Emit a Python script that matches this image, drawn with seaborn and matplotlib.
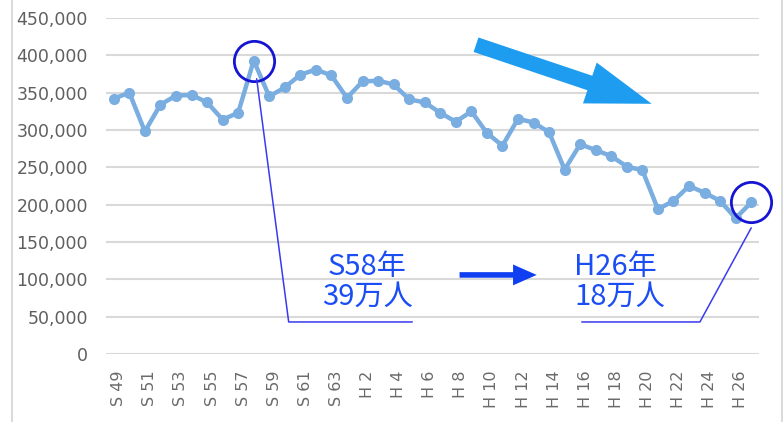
import numpy as np
import pandas as pd
import seaborn as sns
import matplotlib.pyplot as plt
import matplotlib.transforms as mtransforms
from matplotlib.patches import FancyArrowPatch, Rectangle

# fiscal years: Showa 49-63, Heisei 1-27
years = ["S " + str(y) for y in range(49, 64)] + ["H " + str(y) for y in range(1, 28)]
values = [342000, 350000, 298000, 334000, 346000, 347000, 337000, 314000, 323000, 393000,
          345000, 357000, 374000, 381000, 373000, 343000, 365000, 366000, 361000, 341000,
          337000, 323000, 311000, 325000, 296000, 279000, 315000, 310000, 297000, 247000,
          281000, 273000, 265000, 251000, 246000, 194000, 205000, 225000, 216000, 205000,
          182000, 203000]
tick_labels = years[::2]
y_ticks = [0, 50000, 100000, 150000, 200000, 250000, 300000, 350000, 400000, 450000]
peak_label = "S58年\n39万人"
last_label = "H26年\n18万人"

sns.set_theme(style="white")
plt.rcParams['font.family'] = ['DejaVu Sans', 'Noto Sans CJK JP']

df = pd.DataFrame({"idx": np.arange(len(years)), "value": values})

fig = plt.figure(figsize=(7.84, 4.22), dpi=100)
ax = fig.add_axes([106 / 784, 1 - 354 / 422, (759 - 106) / 784, (354 - 18) / 422])

sns.lineplot(data=df, x="idx", y="value", ax=ax, color="#7aade0", linewidth=3.2,
             marker="o", markersize=8, markeredgewidth=0, zorder=3)

ax.set_xlim(-0.5, len(years) - 0.5)
ax.set_ylim(0, 450000)
ax.set_yticks(y_ticks)
ax.set_yticklabels([f"{v:,}" for v in y_ticks], fontsize=12.5, color="#5f5f5f")
ax.set_xticks(df["idx"][::2])
ax.set_xticklabels(tick_labels, rotation=90, fontsize=11.5, color="#6a6a6a", va="top", ha="center")
ax.tick_params(axis="y", length=0, pad=13)
ax.tick_params(axis="x", length=0, pad=12)
offset = mtransforms.ScaledTranslation(5 / 100, 0, fig.dpi_scale_trans)
for lbl in ax.get_xticklabels():
    lbl.set_transform(lbl.get_transform() + offset)
ax.set_xlabel("")
ax.set_ylabel("")
ax.grid(axis="y", color="#d9d9d9", linewidth=1.5)
ax.grid(axis="x", visible=False)
for s in ax.spines.values():
    s.set_visible(False)

# circles on the peak and the last year
peak = int(np.argmax(values))
last = len(values) - 1
for i in (peak, last):
    ax.plot(i, values[i], "o", ms=29, mfc="none", mec="#1414d2", mew=2, zorder=4, clip_on=False)

# leader lines
ax.plot([peak + 0.19, 11.25, 19.2], [368600, 42900, 42900], color="#3a3aee", lw=1.1, zorder=4)
ax.plot([30.1, 37.7, 41.0], [42900, 42900, 168900], color="#3a3aee", lw=1.1, zorder=4)

txt_kw = dict(fontsize=21, color="#1b4df5", family=['Noto Sans CJK JP'],
              linespacing=1.0, zorder=5)
ax.text(16.3, 96500, peak_label, ha="center", va="center", **txt_kw)
ax.text(29.6, 96500, last_label, ha="left", va="center", **txt_kw)

# small blue arrow between the two texts
ax.add_patch(FancyArrowPatch((22.24, 105900), (27.2, 105900),
                             arrowstyle="simple,head_length=17,head_width=15,tail_width=4",
                             mutation_scale=1, color="#0f3ff0", lw=0,
                             shrinkA=0, shrinkB=0, zorder=5))

# big trend arrow
ax.add_patch(FancyArrowPatch((23.3, 414200), (34.6, 335100),
                             arrowstyle="simple,head_length=47,head_width=31,tail_width=11",
                             mutation_scale=1, color="#1e9cf0", lw=0,
                             shrinkA=0, shrinkB=0, zorder=5))

# outer frame of the chart
fig.add_artist(Rectangle((12 / 784, -0.05), (782 - 12) / 784, 1.2,
                         transform=fig.transFigure, fill=False,
                         edgecolor="#d4d4d4", lw=1.2))

fig.savefig("out.png", dpi=100)
